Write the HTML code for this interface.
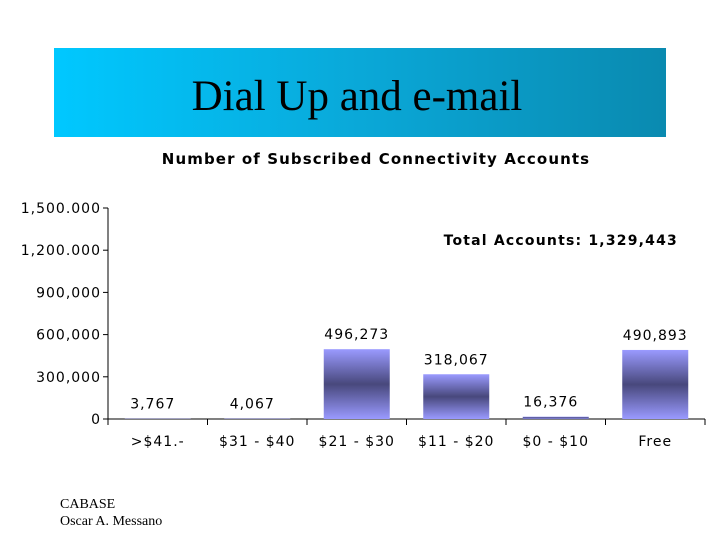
<!DOCTYPE html>
<html><head><meta charset="utf-8"><style>
body{margin:0;width:720px;height:540px;background:#fff;overflow:hidden;position:relative;font-family:"DejaVu Sans",Verdana,sans-serif}
#banner{position:absolute;left:54px;top:48px;width:612px;height:89px;background:linear-gradient(90deg,#00c8ff 0%,#0aa8d8 50%,#0a8ab0 100%)}
#banner div{font-family:"Liberation Serif",serif;font-size:43px;color:#000;text-align:center;line-height:98px;margin-left:-6px}
#footer{position:absolute;left:60px;top:496px;font-family:"Liberation Serif",serif;font-size:14px;line-height:17px}
svg{position:absolute;left:0;top:0}
svg text{letter-spacing:1px}
</style></head><body>
<div id="banner"><div>Dial Up and e-mail</div></div>
<div id="footer">CABASE<br>Oscar A. Messano</div>
<svg id="chart" width="720" height="540">
<defs><linearGradient id="g" x1="0" y1="0" x2="0" y2="1">
<stop offset="0" stop-color="#9a9aff"/><stop offset="0.5" stop-color="#48487c"/><stop offset="1" stop-color="#9a9aff"/></linearGradient></defs>
<text x="376" y="164" text-anchor="middle" font-size="15" font-weight="bold" font-family="DejaVu Sans,sans-serif" style="letter-spacing:1.1px">Number of Subscribed Connectivity Accounts</text>
<text x="678" y="245" text-anchor="end" font-size="14" font-weight="bold" font-family="DejaVu Sans,sans-serif" style="letter-spacing:1.2px">Total Accounts: 1,329,443</text>
</svg>
<script>
const categories=[">$41.-","$31 - $40","$21 - $30","$11 - $20","$0 - $10","Free"];
const values=[3767,4067,496273,318067,16376,490893];
const valueLabels=["3,767","4,067","496,273","318,067","16,376","490,893"];
const yTicks=[0,300000,600000,900000,1200000,1500000];
const yTickLabels=["0","300,000","600,000","900,000","1,200.000","1,500.000"];
const svg=document.getElementById('chart');const NS='http://www.w3.org/2000/svg';
const x0=108,step=99.5,y0=419,yTop=208,ymax=1500000;
const y=v=>y0-(v/ymax)*(y0-yTop);
function el(t,a,p){const e=document.createElementNS(NS,t);for(const k in a)e.setAttribute(k,a[k]);(p||svg).appendChild(e);return e;}
const ax=el('line',{x1:x0,y1:yTop,x2:x0,y2:y0,stroke:'#000'});


const bx=el('line',{x1:x0,y1:y0,x2:x0+step*6,y2:y0,stroke:'#000'});


yTicks.forEach((v,i)=>{
 el('line',{x1:x0-5,y1:y(v),x2:x0,y2:y(v),stroke:'#000'});
 const t=el('text',{x:x0-7,y:y(v)+5,'text-anchor':'end','font-size':14,'font-family':'DejaVu Sans,sans-serif'});
 t.textContent=yTickLabels[i];
 
 
});
for(let i=0;i<=6;i++)el('line',{x1:x0+step*i,y1:y0,x2:x0+step*i,y2:y0+6,stroke:'#000'});
categories.forEach((c,i)=>{
 const cx=x0+step*(i+0.5);
 const h=y0-y(values[i]);
 const r=el('rect',{x:cx-33,y:y(values[i]),width:66,height:Math.max(h,0.5),fill:'url(#g)'});
 
 
 const t=el('text',{x:cx,y:446,'text-anchor':'middle','font-size':14,'font-family':'DejaVu Sans,sans-serif'});
 t.textContent=c;
 
 
 const ly=Math.min(y(values[i])-10,409);
 const l=el('text',{x:cx+(h<30?-5:0),y:ly,'text-anchor':'middle','font-size':14,'font-family':'DejaVu Sans,sans-serif'});
 l.textContent=valueLabels[i];
 
 
});
</script>
</body></html>
